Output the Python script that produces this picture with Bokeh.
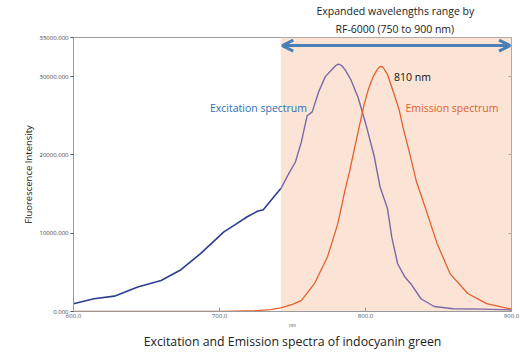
import numpy as np
from bokeh.plotting import figure
from bokeh.models import (Range1d, FixedTicker, LinearAxis, BoxAnnotation, Arrow,
                          OpenHead, Label, Title)
from bokeh.embed import file_html
from bokeh.resources import INLINE

# ---- data (wavelength nm, intensity) ----
ex_nm = [600, 614, 628, 644, 660, 673, 687, 703, 710, 719, 726, 730, 737, 742, 748, 752,
         756, 760, 763.5, 768, 772.5, 777, 779.5, 781.5, 783.5, 786, 790, 795, 801, 806, 810,
         815, 818, 822, 827, 831, 838, 847, 860, 880, 900]
ex_val = [1000, 1630, 1960, 3120, 3970, 5260, 7400, 10170, 11000, 12100, 12800, 13000, 14600,
          15700, 17800, 19100, 21600, 25000, 25500, 28100, 30000, 30900, 31400, 31600, 31450,
          30900, 29600, 27300, 23400, 19800, 15900, 13200, 9500, 6100, 4400, 3550, 1630, 640,
          350, 300, 200]

em_nm = [600, 700, 710, 725, 735, 742, 750, 756, 765, 774, 781, 786, 789, 793, 799, 802, 805,
         808, 810, 812, 815, 819, 823, 826, 830, 835, 840, 849, 858, 870, 883, 900]
em_val = [0, 0, 30, 100, 250, 450, 900, 1400, 3550, 7000, 11200, 15500, 17800, 21300, 26400,
          28400, 29900, 30900, 31300, 31200, 30300, 28100, 25800, 23300, 20400, 16500, 13800,
          8700, 4800, 2300, 1000, 300]

y_ticks = [0, 10000, 20000, 30000, 35000]
y_tick_labels = ["0.000", "10000.000", "20000.000", "30000.000", "35000.000"]
x_ticks = [600, 700, 800, 900]
x_tick_labels = ["600.0", "700.0", "800.0", "900.0"]

shade_start, shade_end = 742, 900
peak_label = "810 nm"

FONT = "Open Sans"

p = figure(width=531, height=356, output_backend="svg", toolbar_location=None,
           x_range=Range1d(600, 900), y_range=Range1d(0, 35000),
           min_border_left=73, min_border_right=20, min_border_top=37, min_border_bottom=45)
p.background_fill_color = "white"
p.border_fill_color = "white"
p.grid.visible = False
p.outline_line_color = "#9a9a9a"
p.outline_line_width = 1

# axes
xa = p.xaxis[0]
xa.ticker = FixedTicker(ticks=x_ticks)
xa.major_label_overrides = dict(zip(x_ticks, x_tick_labels))
xa.major_tick_in = 4
xa.major_tick_out = 0
xa.minor_tick_line_color = None
xa.axis_line_color = "#9a9a9a"
xa.major_tick_line_color = "#9a9a9a"
xa.major_label_text_font_size = "6px"
xa.major_label_text_color = "#555555"
xa.major_label_text_font = FONT
xa.major_label_standoff = 2
xa.axis_label = "nm"
xa.axis_label_text_font_size = "5px"
xa.axis_label_text_font_style = "normal"
xa.axis_label_text_color = "#666666"
xa.axis_label_standoff = 1

ya = p.yaxis[0]
ya.ticker = FixedTicker(ticks=y_ticks)
ya.major_label_overrides = dict(zip(y_ticks, y_tick_labels))
ya.major_tick_in = 0
ya.major_tick_out = 3
ya.minor_tick_line_color = None
ya.axis_line_color = "#9a9a9a"
ya.major_tick_line_color = "#555555"
ya.major_label_text_font_size = "6px"
ya.major_label_text_color = "#444444"
ya.major_label_text_font = FONT
ya.major_label_standoff = 2
ya.axis_label = "Fluorescence Intensity"
ya.axis_label_text_font_size = "9.5px"
ya.axis_label_text_font_style = "normal"
ya.axis_label_text_color = "#222222"
ya.axis_label_text_font = FONT
ya.axis_label_standoff = 1

ra = LinearAxis(ticker=FixedTicker(ticks=[10000, 20000, 30000]),
                major_label_overrides={10000: "", 20000: "", 30000: ""},
                major_label_text_font_size="6px", axis_line_color=None,
                major_tick_in=3, major_tick_out=0, major_tick_line_color="#aaaaaa",
                minor_tick_line_color=None)
p.add_layout(ra, "right")

# shaded range
p.add_layout(BoxAnnotation(left=shade_start, right=shade_end, bottom=0, top=35000,
                           fill_color="#FBE4D5", fill_alpha=1.0, line_color=None,
                           level="underlay"))

# curves
ex_nm_a = np.array(ex_nm, dtype=float)
ex_val_a = np.array(ex_val, dtype=float)
m1 = ex_nm_a <= shade_start
m2 = ex_nm_a >= shade_start
p.line(ex_nm_a[m1], ex_val_a[m1], line_color="#2a3f8f", line_width=1.6, line_join="round")
p.line(ex_nm_a[m2], ex_val_a[m2], line_color="#7a68a8", line_width=1.4, line_join="round")
p.line(em_nm, em_val, line_color="#e4602c", line_width=1.3, line_join="round")

# arrow
p.add_layout(Arrow(x_start=shade_start + 1, x_end=shade_end - 1, y_start=33970, y_end=33970,
                   line_color="#4a7fb8", line_width=3,
                   start=OpenHead(size=11, line_color="#4a7fb8", line_width=3),
                   end=OpenHead(size=11, line_color="#4a7fb8", line_width=3)))

def add_label(x, y, text, size, color, align="left", bold=False):
    p.add_layout(Label(x=x, y=y, text=text, text_font=FONT, text_font_size=size,
                       text_color=color, text_align=align, text_baseline="middle",
                       text_font_style="bold" if bold else "normal"))

add_label(819.5, 30000, peak_label, "10.5px", "#111111")
add_label(693.5, 26025, "Excitation spectrum", "10.5px", "#2e6fb4")
add_label(827.4, 26025, "Emission spectrum", "10.5px", "#e0612e")

# titles (outside the frame)
t2 = Title(text="RF-6000 (750 to 900 nm)", align="left", offset=262,
           text_font=FONT, text_font_size="10.5px", text_font_style="normal",
           text_color="#222222", standoff=3)
t1 = Title(text="Expanded wavelengths range by", align="left", offset=243,
           text_font=FONT, text_font_size="10.5px", text_font_style="normal",
           text_color="#222222", standoff=1)
p.add_layout(t2, "above")
p.add_layout(t1, "above")

tb = Title(text="Excitation and Emission spectra of indocyanin green", align="center",
           text_font=FONT, text_font_size="12.3px", text_font_style="normal",
           text_color="#222222", standoff=0)
p.add_layout(tb, "below")

open("out.html", "w").write(file_html(p, INLINE))
